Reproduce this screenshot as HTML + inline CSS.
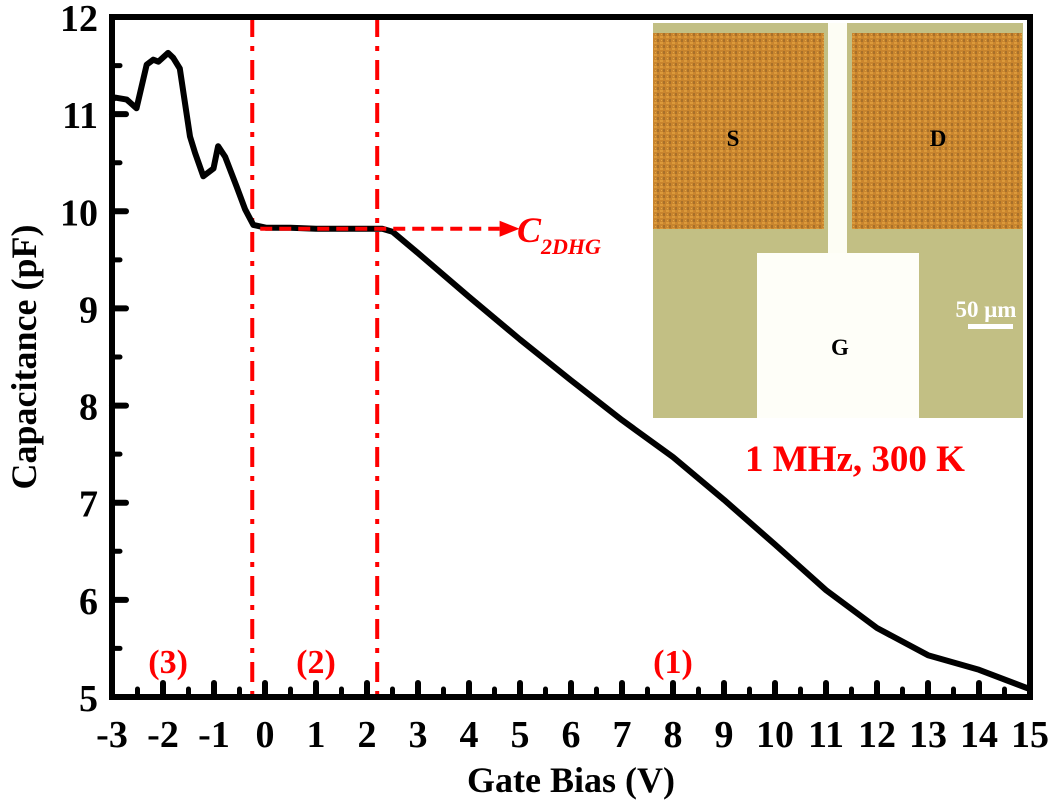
<!DOCTYPE html>
<html><head><meta charset="utf-8"><style>
html,body{margin:0;padding:0;background:#fff}
svg{display:block}
text{font-family:"Liberation Serif",serif;font-weight:bold}
</style></head><body>
<svg id="chart" width="1050" height="802" viewBox="0 0 1050 802">
<defs>
<pattern id="cu" width="6" height="6" patternUnits="userSpaceOnUse">
<rect width="6" height="6" fill="#c9852e"/><rect x="0" y="0" width="3" height="2" fill="#dc9a3a"/><rect x="3" y="3" width="2" height="3" fill="#a8702a"/><rect x="1" y="4" width="1" height="1" fill="#e2a848"/>
</pattern>
</defs>
<g id="inset">
<rect x="653" y="23" width="370" height="395" fill="#c2bf84"/>
<rect x="653" y="33" width="171" height="196" fill="url(#cu)"/>
<rect x="852" y="33" width="170" height="196" fill="url(#cu)"/>
<rect x="828" y="23" width="19" height="232" fill="#fdfdf4"/>
<rect x="757" y="253" width="162" height="165" fill="#fefef8"/>
<text x="733" y="146" font-size="23" text-anchor="middle">S</text>
<text x="938" y="146" font-size="23" text-anchor="middle">D</text>
<text x="840" y="355" font-size="23" text-anchor="middle">G</text>
<text x="986" y="317" font-size="23" fill="#fff" text-anchor="middle">50 μm</text>
<rect x="968" y="324" width="45" height="5" fill="#fff"/>
</g>
<g id="plot"></g>
</svg>
<script>
const V = [-3,-2.94,-2.71,-2.52,-2.32,-2.19,-2.09,-1.9,-1.8,-1.67,-1.47,-1.37,-1.21,-1.01,-0.92,-0.78,-0.56,-0.39,-0.23,0.03,0.5,1,1.5,2,2.3,2.5,3,4,5,6,7,8,9,10,11,12,13,14,15];
const C = [11.15,11.17,11.15,11.06,11.51,11.56,11.54,11.63,11.58,11.47,10.77,10.6,10.36,10.44,10.67,10.56,10.26,10.02,9.86,9.83,9.83,9.82,9.82,9.82,9.82,9.79,9.57,9.12,8.68,8.26,7.85,7.47,7.03,6.57,6.1,5.71,5.43,5.28,5.08];
const xTicks = [-3,-2,-1,0,1,2,3,4,5,6,7,8,9,10,11,12,13,14,15];
const yTicks = [5,6,7,8,9,10,11,12];
const regionBounds = [-0.25,2.2];
const c2dhgLevel = 9.82;
const X0=112,X1=1030,Y0=697,Y1=17;
const sx=v=>X0+(v+3)/18*(X1-X0);
const sy=c=>Y0-(c-5)/7*(Y0-Y1);
const g=document.getElementById('plot');
const NS='http://www.w3.org/2000/svg';
function mk(tag,at,txt){const e=document.createElementNS(NS,tag);for(const k in at)e.setAttribute(k,at[k]);if(txt!==undefined)e.textContent=txt;g.appendChild(e);return e;}
regionBounds.forEach((b,i)=>{
 const l=mk('line',{x1:sx(b),x2:sx(b),y1:Y1,y2:Y0,stroke:'#f00','stroke-width':4,'stroke-dasharray':'20,9,5,9'});
 
 
});
const pts=V.map((v,i)=>sx(v).toFixed(1)+','+sy(C[i]).toFixed(1)).join(' ');
const pl=mk('polyline',{points:pts,fill:'none',stroke:'#000','stroke-width':6,'stroke-linejoin':'round'});


const dl=mk('line',{x1:sx(regionBounds[0])+8,x2:sx(4.6),y1:sy(c2dhgLevel),y2:sy(c2dhgLevel),stroke:'#f00','stroke-width':4,'stroke-dasharray':'12,7'});


const ah=mk('polygon',{points:`${sx(4.6)},${sy(c2dhgLevel)-8} ${sx(4.6)+20},${sy(c2dhgLevel)} ${sx(4.6)},${sy(c2dhgLevel)+8}`,fill:'#f00'});


const ct=mk('text',{x:517,y:242,'font-size':36,fill:'#f00','font-style':'italic'});


ct.innerHTML='C<tspan font-size="22" dy="12">2DHG</tspan>';
const fr=mk('rect',{x:X0,y:Y1,width:X1-X0,height:Y0-Y1,fill:'none',stroke:'#000','stroke-width':6});


for(let v=-3;v<=15;v+=0.5){
 const major=Number.isInteger(v);
 const t=mk('line',{x1:sx(v),x2:sx(v),y1:Y0,y2:Y0-(major?14:8),stroke:'#000','stroke-width':major?6:5,'stroke-linecap':'round'});
 
 
}
xTicks.forEach(v=>{
 const t=mk('text',{x:sx(v),y:747,'font-size':38,'text-anchor':'middle'},String(v));
 
 
});
for(let c=5;c<=12;c+=0.5){
 const major=Number.isInteger(c);
 const t=mk('line',{x1:X0,x2:X0+(major?14:8),y1:sy(c),y2:sy(c),stroke:'#000','stroke-width':major?6:5,'stroke-linecap':'round'});
 
 
}
yTicks.forEach(c=>{
 const t=mk('text',{x:98,y:sy(c)+14,'font-size':38,'text-anchor':'end'},String(c));
 
 
});
const xt=mk('text',{x:571,y:792,'font-size':36,'text-anchor':'middle'},'Gate Bias (V)');


const yt=mk('text',{x:0,y:0,'font-size':36,'text-anchor':'middle',transform:`translate(36,${(Y0+Y1)/2}) rotate(-90)`},'Capacitance (pF)');


[['(3)',-1.9],['(2)',1.0],['(1)',8.0]].forEach(([s,v],i)=>{
 const t=mk('text',{x:sx(v),y:673,'font-size':34,fill:'#f00','text-anchor':'middle'},s);
 
 
});
const ft=mk('text',{x:855,y:471,'font-size':37,fill:'#f00','text-anchor':'middle'},'1 MHz, 300 K');


</script>
</body></html>
